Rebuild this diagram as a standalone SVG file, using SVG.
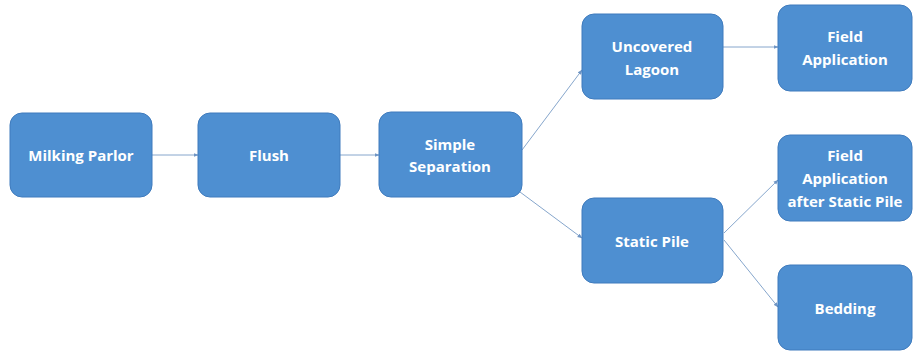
<svg xmlns="http://www.w3.org/2000/svg" width="914" height="352" viewBox="0 0 914 352">
  <defs>
    <marker id="arrow" viewBox="0 0 10 10" refX="9" refY="5" markerWidth="5" markerHeight="5" orient="auto" markerUnits="userSpaceOnUse">
      <path d="M0,1 L10,5 L0,9 Z" fill="#6f95c4"/>
    </marker>
    <style>
      .box { fill: #4e8fd1; stroke: #3f7bbd; stroke-width: 1; }
      .label { fill: #ffffff; font-family: "Open Sans", "Liberation Sans", sans-serif; font-weight: 700; font-size: 15px; text-anchor: middle; }
      .conn { stroke: #86a6cc; stroke-width: 1; fill: none; marker-end: url(#arrow); }
    </style>
  </defs>
  <rect width="914" height="352" fill="#ffffff"/>

  <g id="connectors">
    <line class="conn" x1="152" y1="155" x2="198" y2="155"/>
    <line class="conn" x1="340" y1="155" x2="379" y2="155"/>
    <line class="conn" x1="522" y1="150" x2="582" y2="70"/>
    <line class="conn" x1="520" y1="192" x2="582" y2="238"/>
    <line class="conn" x1="723" y1="47" x2="778" y2="47"/>
    <line class="conn" x1="724" y1="233" x2="778" y2="180"/>
    <line class="conn" x1="724" y1="240" x2="778" y2="307"/>
  </g>

  <g id="milking-parlor">
    <rect class="box" x="10" y="113" width="142" height="84" rx="12"/>
    <text class="label" x="81" y="161">Milking Parlor</text>
  </g>
  <g id="flush">
    <rect class="box" x="198" y="113" width="142" height="84" rx="12"/>
    <text class="label" x="269" y="161">Flush</text>
  </g>
  <g id="simple-separation">
    <rect class="box" x="379" y="112" width="143" height="85" rx="12"/>
    <text class="label" x="450" y="150">Simple</text>
    <text class="label" x="450" y="172">Separation</text>
  </g>
  <g id="uncovered-lagoon">
    <rect class="box" x="582" y="14" width="141" height="85" rx="12"/>
    <text class="label" x="652" y="52">Uncovered</text>
    <text class="label" x="652" y="75">Lagoon</text>
  </g>
  <g id="static-pile">
    <rect class="box" x="582" y="198" width="141" height="85" rx="12"/>
    <text class="label" x="652" y="247">Static Pile</text>
  </g>
  <g id="field-application">
    <rect class="box" x="778" y="5" width="134" height="86" rx="12"/>
    <text class="label" x="845" y="42">Field</text>
    <text class="label" x="845" y="65">Application</text>
  </g>
  <g id="field-application-after-static-pile">
    <rect class="box" x="778" y="135" width="134" height="86" rx="12"/>
    <text class="label" x="845" y="161">Field</text>
    <text class="label" x="845" y="184">Application</text>
    <text class="label" x="845" y="207">after Static Pile</text>
  </g>
  <g id="bedding">
    <rect class="box" x="778" y="265" width="134" height="85" rx="12"/>
    <text class="label" x="845" y="314">Bedding</text>
  </g>
</svg>
